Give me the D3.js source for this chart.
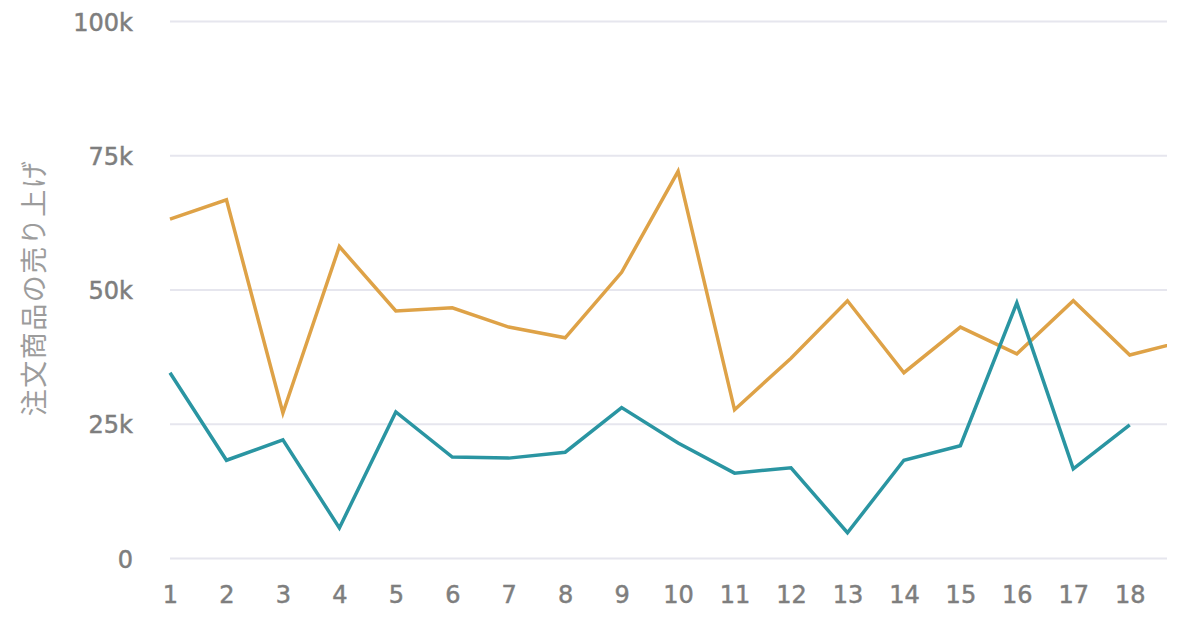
<!DOCTYPE html>
<html><head><meta charset="utf-8">
<script src="https://cdn.jsdelivr.net/npm/d3@7"></script>
<style>
body{margin:0;background:#fff;}
svg{display:block;}
</style></head>
<body>
<svg id="chart" width="1200" height="629"></svg>
<script>
const categories = [1,2,3,4,5,6,7,8,9,10,11,12,13,14,15,16,17,18,19];
const xTickLabels = ["1","2","3","4","5","6","7","8","9","10","11","12","13","14","15","16","17","18"];
const orangeValues = [63100,66700,27000,58000,46000,46600,43000,41000,53200,72000,27600,37200,47900,34500,43000,38000,47900,37800,40500];
const blueValues = [34500,18200,22000,5600,27200,18800,18600,19700,28000,21400,15800,16800,4700,18200,20900,47500,16600,24800];
const yTicks = [0,25000,50000,75000,100000];
const yTickLabels = ["0","25k","50k","75k","100k"];
const yTitle = "注文商品の売り上げ";

(function(){
const svg = d3.select("#chart");
const mLeft = 170, mRight = 1167, mTop = 21, mBottom = 558;
const x = d3.scaleLinear().domain([1, 18.66]).range([mLeft, mRight]);
const y = d3.scaleLinear().domain([0, 100000]).range([mBottom, mTop]);

svg.append("defs").append("clipPath").attr("id","clip")
  .append("rect").attr("x", mLeft-5).attr("y", 0).attr("width", mRight-mLeft+5).attr("height", 629);

const yAxis = d3.axisLeft(y).tickValues(yTicks).tickSize(-(mRight-mLeft)).tickFormat((d,i)=>yTickLabels[i]);
const gy = svg.append("g").attr("transform",`translate(${mLeft},0)`).call(yAxis);
gy.select(".domain").remove();
gy.selectAll(".tick line").attr("stroke","#e6e6ee").attr("stroke-width",2);
gy.selectAll(".tick text").attr("x",-37).attr("dy","0.38em").attr("fill","#7e7e7e")
  .attr("stroke","#7e7e7e").attr("stroke-width",0.5)
  .style("font-family","'DejaVu Sans', sans-serif").style("font-size","24px");

const xAxis = d3.axisBottom(x).tickValues(d3.range(1,19)).tickSize(0).tickFormat((d,i)=>xTickLabels[i]);
const gx = svg.append("g").attr("transform",`translate(0,${mBottom})`).call(xAxis);
gx.select(".domain").remove();
gx.selectAll(".tick text").attr("y",28).attr("fill","#7e7e7e")
  .attr("stroke","#7e7e7e").attr("stroke-width",0.5)
  .style("font-family","'DejaVu Sans', sans-serif").style("font-size","24px");

svg.append("text").attr("transform",`translate(44,288) rotate(-90)`)
  .attr("text-anchor","middle").attr("fill","#9c9c9c")
  .style("font-family","'Noto Sans CJK JP', sans-serif").style("font-size","27px")
  .style("letter-spacing","1.5px")
  .text(yTitle);

const line = d3.line().x((d,i)=>x(categories[i])).y(d=>y(d));
const plot = svg.append("g").attr("clip-path","url(#clip)");
plot.append("path").datum(orangeValues).attr("d",line)
  .attr("fill","none").attr("stroke","#dea247").attr("stroke-width",3.5).attr("stroke-linejoin","miter");
plot.append("path").datum(blueValues).attr("d",line)
  .attr("fill","none").attr("stroke","#2a95a2").attr("stroke-width",3.5).attr("stroke-linejoin","miter");
})();
</script>
</body></html>
